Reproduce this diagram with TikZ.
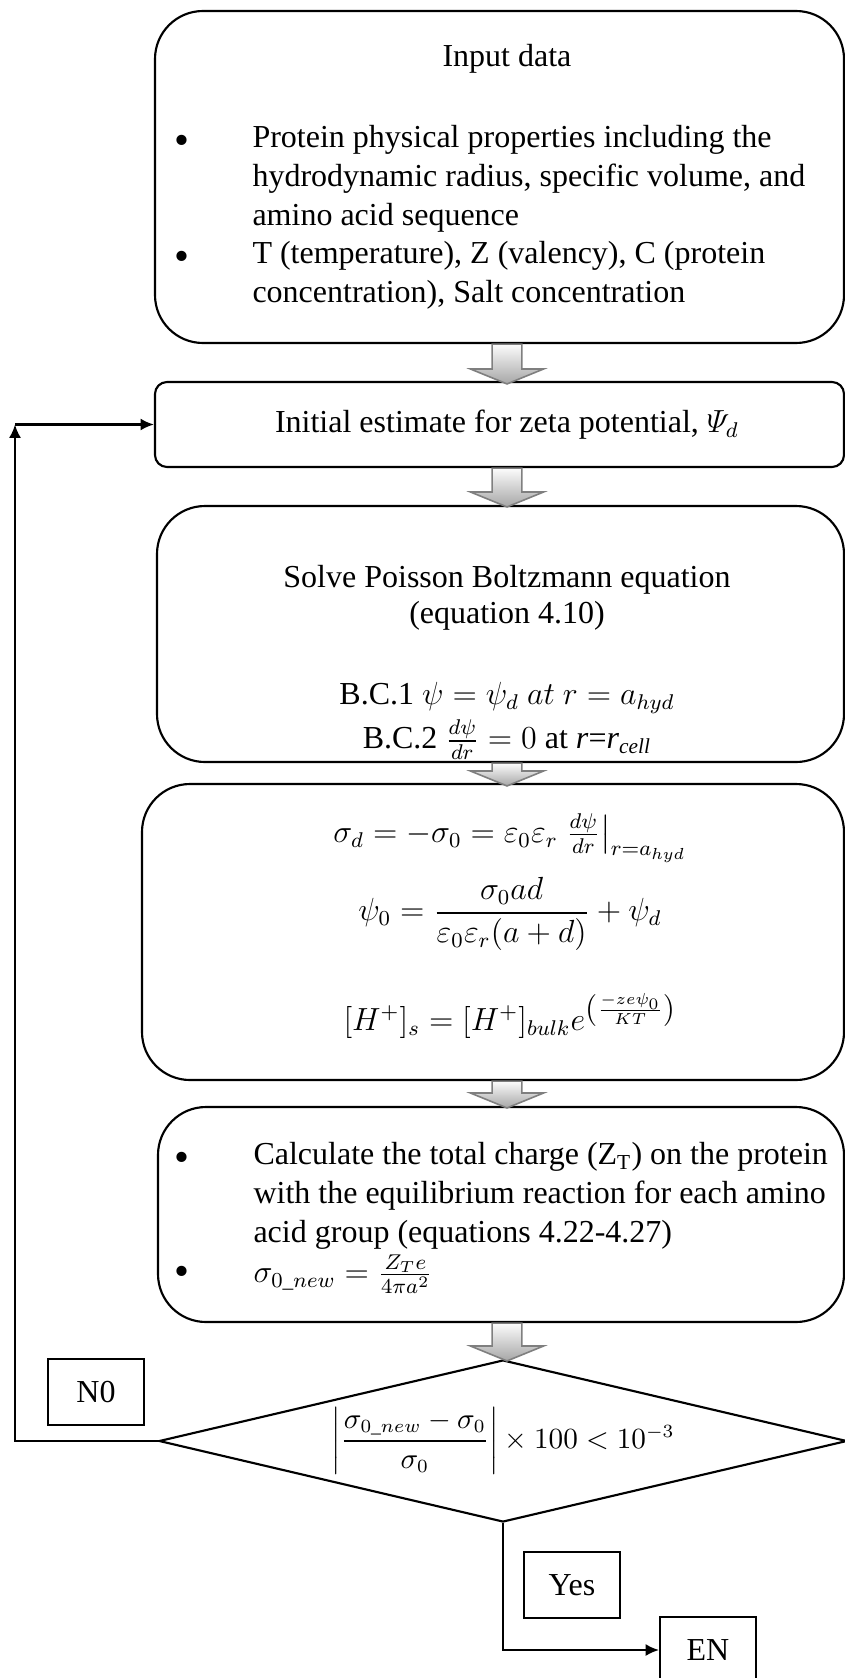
\documentclass[tikz,border=0pt]{standalone}
\usepackage{amsmath,amssymb}
\usepackage{fontspec}
\setmainfont{Liberation Serif}
\usepackage{xcolor}
\usepackage{tikz}
\usetikzlibrary{calc,arrows.meta,positioning,shapes.geometric,fit}
\definecolor{arrtop}{HTML}{FCFCFC}
\definecolor{arrbot}{HTML}{A6A6A6}
\definecolor{arredge}{HTML}{7F7F7F}
\tikzset{
  conn/.style={line width=0.8pt,-{Latex[length=5pt,width=4.5pt]}},
  bigbox/.style={draw,line width=0.8pt,rounded corners=18pt,inner sep=0pt},
  flatbox/.style={draw,line width=0.8pt,rounded corners=4.5pt,inner sep=0pt},
  lbl/.style={draw,line width=0.75pt,minimum width=36pt,minimum height=24.5pt,inner sep=0pt},
  txt/.style={inner sep=0pt},
  dot/.style={inner sep=0pt,font=\fontsize{16}{16}\selectfont},
  blkarr/.style={top color=arrtop,bottom color=arrbot,draw=arredge,line width=0.6pt}
}
\newcommand{\blockarr}[2]{%
  \draw[blkarr] let \p1=#1, \p2=#2 in
    (\x1-5.6pt,\y1) -- (\x1+5.6pt,\y1) -- (\x1+5.6pt,\y2+5.6pt) -- (\x1+13.7pt,\y2+5.6pt)
    -- (\x1,\y2) -- (\x1-13.7pt,\y2+5.6pt) -- (\x1-5.6pt,\y2+5.6pt) -- cycle;}

\begin{document}
\begin{tikzpicture}[x=0.375pt,y=-0.375pt,font=\fontsize{12}{14.5}\selectfont]
\useasboundingbox (0,0) rectangle (845,1678);
\coordinate (ax) at (507,0);
\coordinate (lx) at (15,0);
% boxes of the loop
\node[bigbox,fit={(155,11) (844,343)}] (inp) {};
\node[flatbox,fit={(155,382) (844,467)}] (init) {};
\node[bigbox,fit={(157,506) (844,762)}] (pb) {};
\node[bigbox,fit={(142,784) (844,1080)}] (eqs) {};
\node[bigbox,fit={(158,1107) (844,1322)}] (chg) {};
\node[diamond,draw,line width=0.8pt,inner sep=0pt,aspect=4.2,minimum width=258pt,minimum height=60.75pt,
  font=\fontsize{10.5}{12}\selectfont] (dec) at (503,1441)
  {$\biggl|\dfrac{\sigma_{0\_new}-\sigma_0}{\sigma_0}\biggr|\times 100<10^{-3}$};
% input data
\node[txt] (inpT) at (507,59) {Input data};
\node[dot] (d1) at (182,145) {\textbullet};
\node[txt,align=left,anchor=north west] (inpA) at (252,125)
  {Protein physical properties including the\\hydrodynamic radius, specific volume, and\\amino acid sequence};
\node[dot] (d2) at (182,261) {\textbullet};
\node[txt,align=left,anchor=north west] (inpB) at (252,241)
  {T (temperature), Z (valency), C (protein\\concentration), Salt concentration};
% estimate
\node[txt] (initT) at (507,425) {Initial estimate for zeta potential, $\varPsi_d$};
% Poisson Boltzmann
\node[txt] (pbA) at (507,580) {Solve Poisson Boltzmann equation};
\node[txt] (pbB) at (507,616) {(equation 4.10)};
\node[txt] (pbC) at (507,698) {B.C.1 $\psi=\psi_d\ at\ r=a_{hyd}$};
\node[txt] (pbD) at (507,740) {B.C.2 $\frac{d\psi}{dr}=0$ at \textit{r}=\textit{r}\textsubscript{\textit{cell}}};
% surface values
\node[txt] (eqA) at (510,838) {$\sigma_d=-\sigma_0=\varepsilon_0\varepsilon_r\left.\frac{d\psi}{dr}\right|_{r=a_{hyd}}$};
\node[txt] (eqB) at (510,914) {$\psi_0=\dfrac{\sigma_0ad}{\varepsilon_0\varepsilon_r(a+d)}+\psi_d$};
\node[txt] (eqC) at (510,1016) {$[H^+]_s=[H^+]_{bulk}e^{\left(\frac{-ze\psi_0}{KT}\right)}$};
% charge
\node[dot] (d3) at (182,1162) {\textbullet};
\node[txt,align=left,anchor=north west] (chgA) at (253,1142)
  {Calculate the total charge (Z\textsubscript{T}) on the protein\\with the equilibrium reaction for each amino\\acid group (equations 4.22-4.27)};
\node[dot] (d4) at (182,1276) {\textbullet};
\node[txt,anchor=west] (chgB) at (253,1274) {$\sigma_{0\_new}=\frac{Z_Te}{4\pi a^2}$};
% labels
\node[lbl] (no) at (96,1392) {N0};
\node[lbl] (yes) at (572,1585) {Yes};
\node[lbl] (en) at (708,1650) {EN};
% block arrows
\blockarr{(inp.south -| ax)}{($(init.north -| ax)+(0,3)$)}
\blockarr{(init.south -| ax)}{($(pb.north -| ax)+(0,2)$)}
\blockarr{(pb.south -| ax)}{($(eqs.north -| ax)+(0,3)$)}
\blockarr{(eqs.south -| ax)}{($(chg.north -| ax)+(0,2)$)}
\blockarr{(chg.south -| ax)}{($(dec.north -| ax)+(0,2)$)}
% loop back and exit
\coordinate (lc) at (init.west -| lx);
\draw[conn] (dec.west) -| (lc);
\draw[conn] (lc) -- (init.west);
\draw[conn] (dec.south) |- (en.west);
\end{tikzpicture}
\end{document}
